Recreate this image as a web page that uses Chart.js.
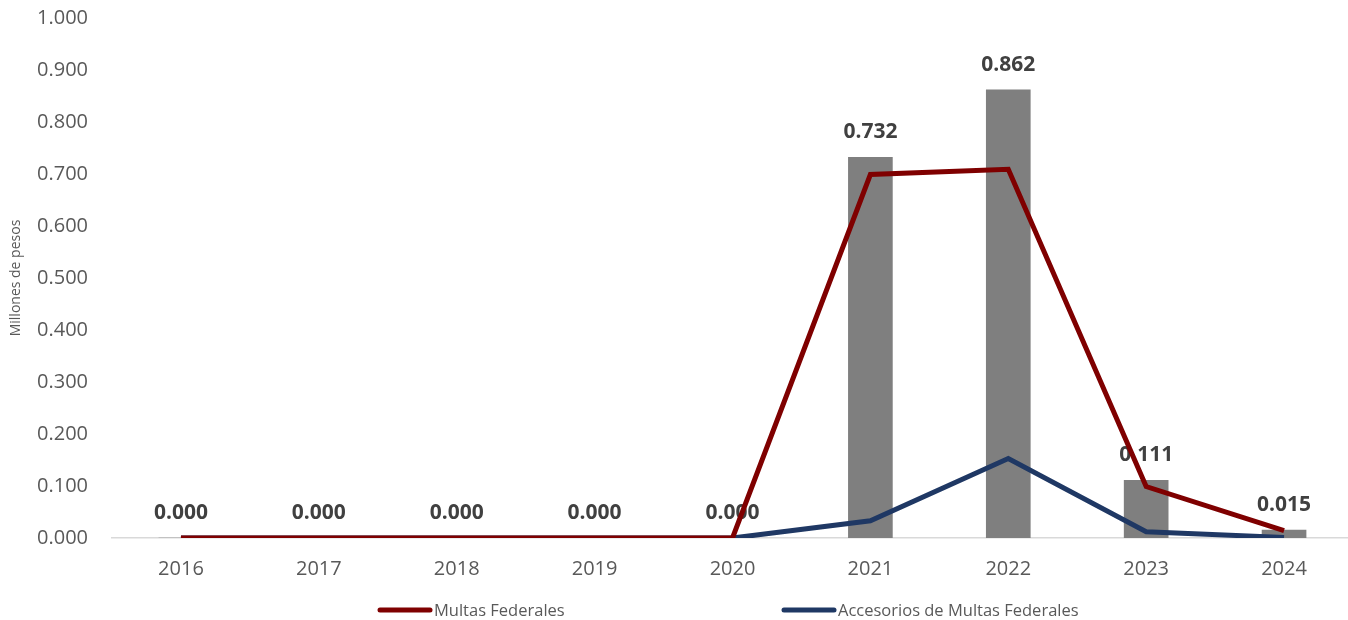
<!DOCTYPE html>
<html>
<head>
<meta charset="utf-8">
<script src="https://cdn.jsdelivr.net/npm/chart.js@4/dist/chart.umd.min.js"></script>
<style>
html,body{margin:0;padding:0;overflow:hidden;background:#fff;}
#wrap{position:relative;width:1370px;height:620px;}
</style>
</head>
<body>
<div id="wrap"><canvas id="c"></canvas></div>
<script>
const categories = ['2016','2017','2018','2019','2020','2021','2022','2023','2024'];
const totalValues = [0, 0, 0, 0, 0, 0.732, 0.862, 0.111, 0.015];
const multasFederales = [0, 0, 0, 0, 0, 0.699, 0.709, 0.099, 0.014];
const accesoriosMultas = [0, 0, 0, 0, 0, 0.033, 0.153, 0.012, 0.001];
const seriesNames = ['Multas Federales', 'Accesorios de Multas Federales'];
const yTitle = 'Millones de pesos';

const RED = '#7f0000';
const BLUE = '#1f3864';
const BAR = '#7f7f7f';
const TXT = '#595959';
const FONT = "'Open Sans', 'Liberation Sans', sans-serif";

const barLabels = {
  id: 'barLabels',
  afterDatasetDraw(chart, args) {
    if (args.meta.type !== 'bar') return;
    const ctx = chart.ctx;
    ctx.save();
    ctx.font = "bold 21px " + FONT;
    ctx.fillStyle = '#404040';
    ctx.textAlign = 'center';
    ctx.textBaseline = 'middle';
    args.meta.data.forEach((el, i) => {
      ctx.fillText(totalValues[i].toFixed(3), el.x, el.y - 25);
    });
    ctx.restore();
  }
};

const customLegend = {
  id: 'customLegend',
  afterDraw(chart) {
    const ctx = chart.ctx;
    const items = [
      {x: 378, color: RED, text: seriesNames[0]},
      {x: 782, color: BLUE, text: seriesNames[1]}
    ];
    const y = 610;
    ctx.save();
    items.forEach(it => {
      ctx.strokeStyle = it.color;
      ctx.lineWidth = 5;
      ctx.lineCap = 'round';
      ctx.beginPath();
      ctx.moveTo(it.x + 2, y);
      ctx.lineTo(it.x + 52, y);
      ctx.stroke();
      ctx.font = "16.5px " + FONT;
      ctx.fillStyle = TXT;
      ctx.textAlign = 'left';
      ctx.textBaseline = 'middle';
      ctx.fillText(it.text, it.x + 56, y + 1);
    });
    ctx.restore();
  }
};

new Chart(document.getElementById('c'), {
  data: {
    labels: categories,
    datasets: [
      {
        type: 'line', label: seriesNames[0], data: multasFederales,
        borderColor: RED, backgroundColor: RED, borderWidth: 5,
        pointRadius: 0, tension: 0, order: 0, borderJoinStyle: 'miter'
      },
      {
        type: 'line', label: seriesNames[1], data: accesoriosMultas,
        borderColor: BLUE, backgroundColor: BLUE, borderWidth: 5,
        pointRadius: 0, tension: 0, order: 1, borderJoinStyle: 'miter'
      },
      {
        type: 'bar', label: 'Total', data: totalValues,
        backgroundColor: BAR, barThickness: 44, order: 2
      }
    ]
  },
  options: {
    responsive: true,
    maintainAspectRatio: false,
    animation: false,
    layout: { padding: { top: 18, right: 17, bottom: 0, left: 0 } },
    plugins: {
      legend: { display: false },
      tooltip: { enabled: false }
    },
    scales: {
      x: {
        grid: { display: false, drawTicks: false },
        border: { display: true, color: '#d9d9d9', width: 1.5 },
        ticks: { color: TXT, font: { family: FONT, size: 20 }, padding: 19 },
        afterFit(scale) { scale.height = 82; scale.paddingLeft = 0; scale.paddingRight = 0; }
      },
      y: {
        min: 0, max: 1,
        grid: { display: false, drawTicks: false },
        border: { display: false },
        ticks: {
          stepSize: 0.1, color: TXT, padding: 24,
          font: { family: FONT, size: 20 },
          callback: v => Number(v).toFixed(3)
        },
        title: {
          display: true, text: yTitle, color: TXT,
          font: { family: FONT, size: 14 }, padding: { top: 8, bottom: 0 }
        },
        afterFit(scale) { scale.width = 112; scale.paddingTop = 0; scale.paddingBottom = 0; }
      }
    }
  },
  plugins: [barLabels, customLegend]
});
</script>
</body>
</html>
